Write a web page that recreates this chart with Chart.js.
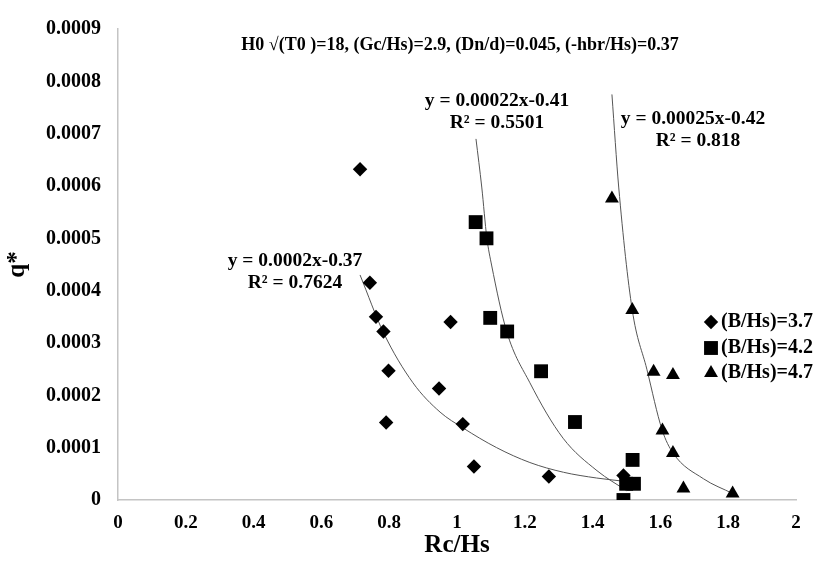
<!DOCTYPE html>
<html>
<head>
<meta charset="utf-8">
<script src="https://cdn.jsdelivr.net/npm/chart.js@4.4.0/dist/chart.umd.min.js"></script>
<style>
  html, body { margin: 0; padding: 0; background: #fff; }
</style>
</head>
<body>
<canvas id="myChart" width="815" height="565"></canvas>
<script>
// values
const seriesNames = ['(B/Hs)=3.7', '(B/Hs)=4.2', '(B/Hs)=4.7'];

const rc37 = [0.714, 0.743, 0.761, 0.783, 0.798, 0.791, 0.947, 0.981, 1.017, 1.050, 1.271, 1.491];
const q37 = [0.000632, 0.000415, 0.00035, 0.000322, 0.000247, 0.000148, 0.000213, 0.00034, 0.000145, 0.000064, 0.000045, 0.000047];

const rc42 = [1.055, 1.087, 1.098, 1.148, 1.248, 1.348, 1.518, 1.499, 1.522, 1.491];
const q42 = [0.000531, 0.0005, 0.000348, 0.000322, 0.000246, 0.000149, 0.0000766, 0.000031, 0.000031, 0.0];

const rc47 = [1.457, 1.517, 1.580, 1.637, 1.606, 1.637, 1.668, 1.813];
const q47 = [0.000576, 0.000363, 0.000245, 0.000239, 0.000133, 0.00009, 0.000022, 0.0000125];

// trend curves, points
const trendX37 = [0.714, 0.783, 0.870, 0.950, 1.017, 1.117, 1.215, 1.314, 1.412, 1.490];
const trendY37 = [0.00043, 0.00032, 0.000224, 0.000168, 0.000138, 0.0001, 0.0000716, 0.000053, 0.000042, 0.000036];
const trendX42 = [1.056, 1.073, 1.088, 1.102, 1.147, 1.215, 1.313, 1.413, 1.501];
const trendY42 = [0.00069, 0.000598, 0.000501, 0.000449, 0.000321, 0.000224, 0.000118, 0.000056, 0.0000175];
const trendX47 = [1.457, 1.477, 1.517, 1.560, 1.605, 1.637, 1.727, 1.813];
const trendY47 = [0.000775, 0.000598, 0.000363, 0.00025, 0.000134, 0.00009, 0.0000406, 0.0000125];

const xTickValues = [0, 0.2, 0.4, 0.6, 0.8, 1, 1.2, 1.4, 1.6, 1.8, 2];
const xTickLabels = ['0', '0.2', '0.4', '0.6', '0.8', '1', '1.2', '1.4', '1.6', '1.8', '2'];
const yTickValues = [0, 0.0001, 0.0002, 0.0003, 0.0004, 0.0005, 0.0006, 0.0007, 0.0008, 0.0009];
const yTickLabels = ['0', '0.0001', '0.0002', '0.0003', '0.0004', '0.0005', '0.0006', '0.0007', '0.0008', '0.0009'];

const titleText = 'H0 \u221A(T0 )=18, (Gc/Hs)=2.9, (Dn/d)=0.045, (-hbr/Hs)=0.37';
const trendText = [
  ['y = 0.0002x-0.37', 'R\u00B2 = 0.7624'],
  ['y = 0.00022x-0.41', 'R\u00B2 = 0.5501'],
  ['y = 0.00025x-0.42', 'R\u00B2 = 0.818'],
];

const FONT = "'Liberation Serif', 'Times New Roman', serif";
const zip = (xs, ys) => xs.map((x, i) => ({ x: x, y: ys[i] }));

const styles = [
  { pointStyle: 'rectRot', radius: 7.2 },
  { pointStyle: 'rect', radius: 9.8 },
  { pointStyle: 'triangle', radius: 8 },
];

function markSet(label, xs, ys, st) {
  return {
    label: label,
    data: zip(xs, ys),
    pointStyle: st.pointStyle,
    pointRadius: st.radius,
    pointHoverRadius: st.radius,
    backgroundColor: '#000',
    borderColor: '#000',
    borderWidth: 0,
    showLine: false,
    order: 1,
  };
}

function trendSet(xs, ys) {
  return {
    label: 'trend',
    data: zip(xs, ys),
    showLine: true,
    pointRadius: 0,
    borderColor: '#555',
    borderWidth: 1,
    cubicInterpolationMode: 'monotone',
    fill: false,
    order: 2,
  };
}

const textPlugin = {
  id: 'texts',
  afterDraw(chart) {
    const ctx = chart.ctx;
    ctx.save();
    ctx.fillStyle = '#000';
    ctx.textAlign = 'center';
    ctx.textBaseline = 'middle';
    ctx.font = 'bold 18px ' + FONT;
    ctx.fillText(titleText, 460, 45);
    ctx.font = 'bold 19.5px ' + FONT;
    const spots = [[295, 261, 295, 283], [497, 101, 497, 123], [693, 119, 698, 141]];
    trendText.forEach((t, i) => {
      const s = spots[i];
      ctx.fillText(t[0], s[0], s[1]);
      ctx.fillText(t[1], s[2], s[3]);
    });

    // legend
    ctx.textAlign = 'left';
    ctx.font = 'bold 20px ' + FONT;
    const rows = [322, 348, 373];
    seriesNames.forEach((name, i) => {
      const st = styles[i];
      ctx.fillStyle = '#000';
      Chart.helpers.drawPoint(ctx, { pointStyle: st.pointStyle, radius: st.radius, rotation: 0, borderWidth: 0 }, 711, rows[i]);
      ctx.fillText(name, 721, rows[i]);
    });
    ctx.restore();
  },
};

const ctx = document.getElementById('myChart').getContext('2d');
const myChart = new Chart(ctx, {
  type: 'scatter',
  data: {
    datasets: [
      markSet(seriesNames[0], rc37, q37, styles[0]),
      markSet(seriesNames[1], rc42, q42, styles[1]),
      markSet(seriesNames[2], rc47, q47, styles[2]),
      trendSet(trendX37, trendY37),
      trendSet(trendX42, trendY42),
      trendSet(trendX47, trendY47),
    ],
  },
  options: {
    responsive: false,
    animation: false,
    layout: { padding: { top: 20, right: 19, left: 0, bottom: 0 } },
    plugins: {
      legend: { display: false },
      tooltip: { enabled: false },
    },
    scales: {
      x: {
        type: 'linear',
        min: 0,
        max: 2,
        afterBuildTicks: (scale) => { scale.ticks = xTickValues.map(v => ({ value: v })); },
        afterFit: (scale) => { scale.height = 65; },
        grid: { display: false, drawTicks: false },
        border: { display: true, color: '#c4c4c4', width: 1.5 },
        ticks: {
          color: '#000',
          padding: 12,
          maxRotation: 0,
          autoSkip: false,
          callback: (v, i) => xTickLabels[i],
          font: { family: FONT, size: 19, weight: 'bold' },
        },
        title: {
          display: true,
          text: 'Rc/Hs',
          color: '#000',
          padding: { top: 0, bottom: 4 },
          font: { family: FONT, size: 25, weight: 'bold' },
        },
      },
      y: {
        type: 'linear',
        min: 0,
        max: 0.0009,
        afterBuildTicks: (scale) => { scale.ticks = yTickValues.map(v => ({ value: v })); },
        afterFit: (scale) => { scale.width = 118; },
        grid: { display: false, drawTicks: false },
        border: { display: true, color: '#c4c4c4', width: 1.5 },
        ticks: {
          color: '#000',
          padding: 17,
          autoSkip: false,
          callback: (v, i) => yTickLabels[i],
          font: { family: FONT, size: 20, weight: 'bold' },
        },
        title: {
          display: true,
          text: 'q*',
          color: '#000',
          padding: { top: 3, bottom: 0 },
          font: { family: FONT, size: 25, weight: 'bold' },
        },
      },
    },
  },
  plugins: [textPlugin],
});
</script>
</body>
</html>
